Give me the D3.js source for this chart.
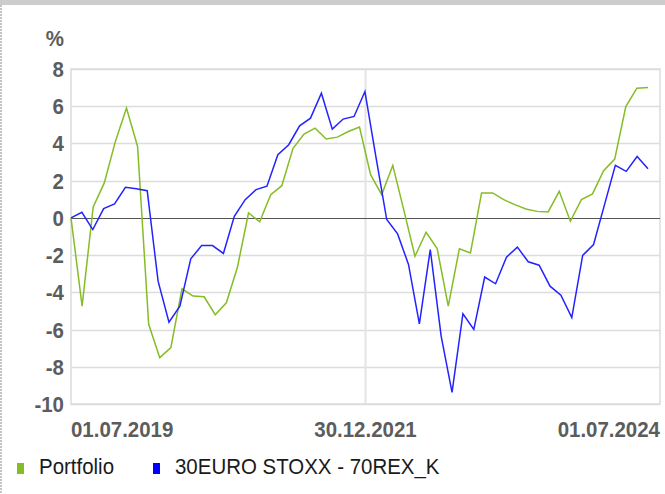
<!DOCTYPE html>
<html>
<head>
<meta charset="utf-8">
<script src="https://cdn.jsdelivr.net/npm/d3@7"></script>
<style>
  body { margin: 0; background: #fff; }
  text { font-family: "Liberation Sans", Arial, sans-serif; }
</style>
</head>
<body>
<script>
// data
const portfolio = [0, -4.74, 0.59, 1.88, 4.11, 5.90, 3.84, -5.72, -7.51, -6.97,
  -3.81, -4.20, -4.24, -5.20, -4.56, -2.65, 0.27, -0.21, 1.25, 1.73,
  3.72, 4.50, 4.82, 4.24, 4.34, 4.64, 4.88, 2.32, 1.25, 2.82,
  0.40, -2.06, -0.77, -1.65, -4.74, -1.66, -1.88, 1.34, 1.34, 0.98,
  0.71, 0.48, 0.35, 0.32, 1.43, -0.18, 0.98, 1.29, 2.54, 3.16,
  5.98, 6.97, 7.00];

const benchmark = [0, 0.30, -0.63, 0.50, 0.75, 1.64, 1.57, 1.46, -3.40, -5.60,
  -4.74, -2.20, -1.49, -1.49, -1.91, 0.09, 0.98, 1.52, 1.70, 3.39,
  3.93, 4.95, 5.36, 6.70, 4.77, 5.31, 5.45, 6.79, 3.30, -0.09,
  -0.86, -2.50, -5.69, -1.70, -6.35, -9.38, -5.15, -5.99, -3.18, -3.54,
  -2.11, -1.57, -2.36, -2.54, -3.67, -4.15, -5.36, -2.02, -1.43, 0.70,
  2.82, 2.50, 3.30, 2.64];

const dateLabels = ["01.07.2019", "30.12.2021", "01.07.2024"];
const yTicks = [8, 6, 4, 2, 0, -2, -4, -6, -8, -10];
const seriesNames = ["Portfolio", "30EURO STOXX - 70REX_K"];

let width = 665, height = 494;
let plot = { left: 71, right: 660, top: 69, bottom: 404, dataRight: 648 };
const colors = { portfolio: "#86bc25", benchmark: "#2323ff" };
const squeeze = 0.93; // text in the picture is slightly narrowed

let svg = d3.select("body")
  .append("svg")
  .attr("width", width)
  .attr("height", height);

// screenshot frame bits
svg.append("rect").attr("x", 0).attr("y", 0).attr("width", width).attr("height", 5).attr("fill", "#cdcdcd");
svg.append("line").attr("x1", 1).attr("x2", 1).attr("y1", 5).attr("y2", height)
  .attr("stroke", "#c4c4c4").attr("stroke-width", 2).attr("stroke-dasharray", "2,1");

const yScale = d3.scaleLinear().domain([-10, 8]).range([plot.bottom, plot.top]);
const xLabel = d3.scalePoint().domain(dateLabels).range([plot.left, plot.right]);
const xPortfolio = d3.scaleLinear().domain([0, portfolio.length - 1]).range([plot.left, plot.dataRight]);
const xBenchmark = d3.scaleLinear().domain([0, benchmark.length - 1]).range([plot.left, plot.dataRight]);

// grid
svg.append("g")
  .selectAll("line")
  .data(yTicks.filter(d => d !== 0))
  .enter()
  .append("line")
  .attr("x1", plot.left).attr("x2", plot.right)
  .attr("y1", d => Math.round(yScale(d)) + 0.5)
  .attr("y2", d => Math.round(yScale(d)) + 0.5)
  .attr("stroke", "#dcdcdc").attr("stroke-width", 1.5);

svg.append("line")
  .attr("x1", xLabel(dateLabels[1])).attr("x2", xLabel(dateLabels[1]))
  .attr("y1", plot.top).attr("y2", plot.bottom)
  .attr("stroke", "#e4e4e4").attr("stroke-width", 2);

svg.append("rect")
  .attr("x", plot.left).attr("y", plot.top)
  .attr("width", plot.right - plot.left).attr("height", plot.bottom - plot.top)
  .attr("fill", "none").attr("stroke", "#dcdcdc").attr("stroke-width", 1.5);

// zero line
svg.append("line")
  .attr("x1", plot.left).attr("x2", plot.right)
  .attr("y1", Math.round(yScale(0)) + 0.5).attr("y2", Math.round(yScale(0)) + 0.5)
  .attr("stroke", "#555").attr("stroke-width", 1.2);

// lines
const lineP = d3.line().x((d, i) => xPortfolio(i)).y(d => yScale(d));
const lineB = d3.line().x((d, i) => xBenchmark(i)).y(d => yScale(d));

svg.append("path").datum(portfolio)
  .attr("d", lineP).attr("fill", "none")
  .attr("stroke", colors.portfolio).attr("stroke-width", 1.5);

svg.append("path").datum(benchmark)
  .attr("d", lineB).attr("fill", "none")
  .attr("stroke", colors.benchmark).attr("stroke-width", 1.5);

// y labels
svg.append("g")
  .selectAll("text")
  .data(yTicks)
  .enter()
  .append("text")
  .attr("transform", d => `translate(64,${yScale(d) + 8})scale(${squeeze},1)`)
  .attr("text-anchor", "end")
  .attr("font-size", 22).attr("font-weight", "bold").attr("fill", "#5c5c5c")
  .text(d => d);

svg.append("text")
  .attr("transform", `translate(64,46)scale(${squeeze},1)`)
  .attr("text-anchor", "end")
  .attr("font-size", 22).attr("font-weight", "bold").attr("fill", "#5c5c5c")
  .text("%");

// x labels
const anchors = ["start", "middle", "end"];
svg.append("g")
  .selectAll("text")
  .data(dateLabels)
  .enter()
  .append("text")
  .attr("transform", d => `translate(${xLabel(d)},437)scale(${squeeze},1)`)
  .attr("text-anchor", (d, i) => anchors[i])
  .attr("font-size", 22).attr("font-weight", "bold").attr("fill", "#5c5c5c")
  .text(d => d);

// legend
const legendX = [17, 153];
const legendColors = [colors.portfolio, "#0000ff"];
let legend = svg.append("g")
  .selectAll("g")
  .data(seriesNames)
  .enter()
  .append("g");

legend.append("rect")
  .attr("x", (d, i) => legendX[i]).attr("y", 463)
  .attr("width", 7).attr("height", 11)
  .attr("fill", (d, i) => legendColors[i]);

legend.append("text")
  .attr("transform", (d, i) => `translate(${legendX[i] + 22},473.5)scale(${squeeze},1)`)
  .attr("font-size", 22).attr("fill", "#1a1a1a")
  .text(d => d);
</script>
</body>
</html>
